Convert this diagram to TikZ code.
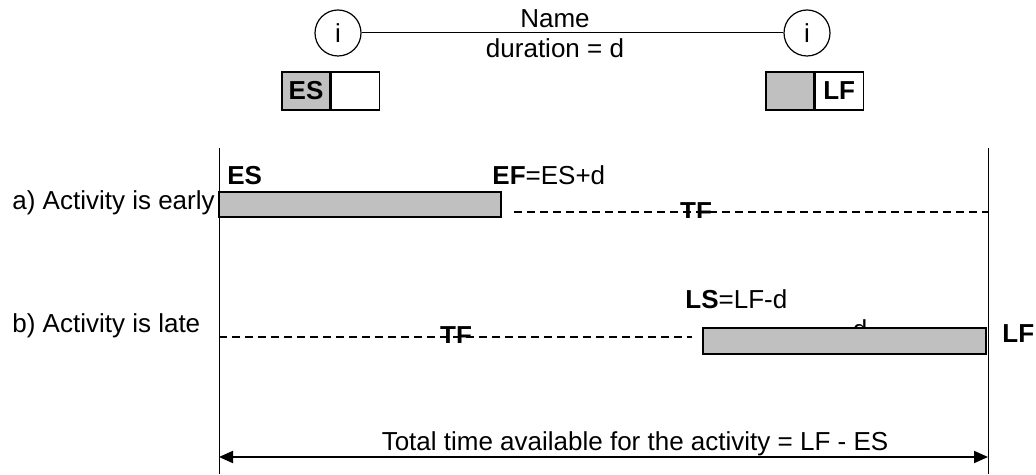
\documentclass[tikz,border=0pt]{standalone}
\usepackage{fontspec}
\setmainfont{Liberation Sans}
\usetikzlibrary{positioning,arrows.meta}
\definecolor{barfill}{RGB}{192,192,192}
\tikzset{
  txt/.style={inner sep=0pt, font=\fontsize{13}{15}\selectfont},
  event/.style={draw, circle, minimum size=23pt, inner sep=0pt, line width=0.6pt, txt},
  half/.style={draw, minimum width=24pt, minimum height=19pt, inner sep=0pt, line width=0.6pt, txt, font=\fontsize{13}{15}\selectfont\bfseries},
  bartime/.style={draw, line width=0.8pt, fill=barfill},
  slack/.style={dash pattern=on 4pt off 2.5pt, line width=0.6pt},
}
\begin{document}
\begin{tikzpicture}[x=0.5pt, y=-0.5pt, >={Triangle[length=7pt,width=6pt]}]
  \useasboundingbox (0,0) rectangle (1036,475);
  % Legenda
  \node[event] (iL) at (338,33) {i};
  \node[event] (iR) at (807,33) {i};
  \draw[line width=0.5pt] (iL) -- (iR);
  \node[txt, anchor=base] (name) at (555,28) {Name};
  \node[txt, anchor=base] (dur) at (555,58) {duration = d};
  \node[half, fill=barfill] (esA) at (306,91) {ES};
  \node[half, right=0pt of esA] (esB) {};
  \node[half, fill=barfill] (lfA) at (790,91) {};
  \node[half, right=0pt of lfA] (lfB) {LF};

  % Limites
  \coordinate (L0) at (219,148);
  \coordinate (L1) at (219,474);
  \coordinate (R0) at (988,148);
  \coordinate (R1) at (988,474);
  \draw[line width=0.5pt] (L0) -- (L1);
  \draw[line width=0.5pt] (R0) -- (R1);

  % a) cedo
  \node[txt, anchor=base west] (early) at (12,210) {a) Activity is early};
  \node[txt, anchor=base west, font=\fontsize{13}{15}\selectfont\bfseries] (ES) at (227,185) {ES};
  \node[txt, anchor=base west] (EF) at (492,185) {\textbf{EF}=ES+d};
  \draw[bartime] (219,192) rectangle (501,217);
  \coordinate (s0) at (514,212);
  \coordinate (s1) at (988,212);
  \begin{scope}
    \clip (660,190) rectangle (740,218);
    \node[txt, anchor=base, font=\fontsize{13}{15}\selectfont\bfseries] (tfA) at (696,221) {TF};
  \end{scope}
  \draw[slack] (s0) -- (s1);

  % b) tarde
  \node[txt, anchor=base west] (late) at (12,332) {b) Activity is late};
  \node[txt, anchor=base west] (LS) at (685,308) {\textbf{LS}=LF-d};
  \node[txt, anchor=base] (dd) at (860,338) {d};
  \draw[bartime] (703,328) rectangle (986,354);
  \node[txt, anchor=base west, font=\fontsize{13}{15}\selectfont\bfseries] (LF) at (1002,342) {LF};
  \coordinate (t0) at (219,337);
  \coordinate (t1) at (692,337);
  \begin{scope}
    \clip (420,315) rectangle (500,342);
    \node[txt, anchor=base, font=\fontsize{13}{15}\selectfont\bfseries] (tfB) at (456,344) {TF};
  \end{scope}
  \draw[slack] (t0) -- (t1);

  % Tempo total
  \coordinate (aL) at (219,457);
  \coordinate (aR) at (988,457);
  \draw[<->, line width=1pt] (aL) -- (aR);
  \node[txt, anchor=base] (total) at (635,450) {Total time available for the activity = LF - ES};
\end{tikzpicture}
\end{document}
